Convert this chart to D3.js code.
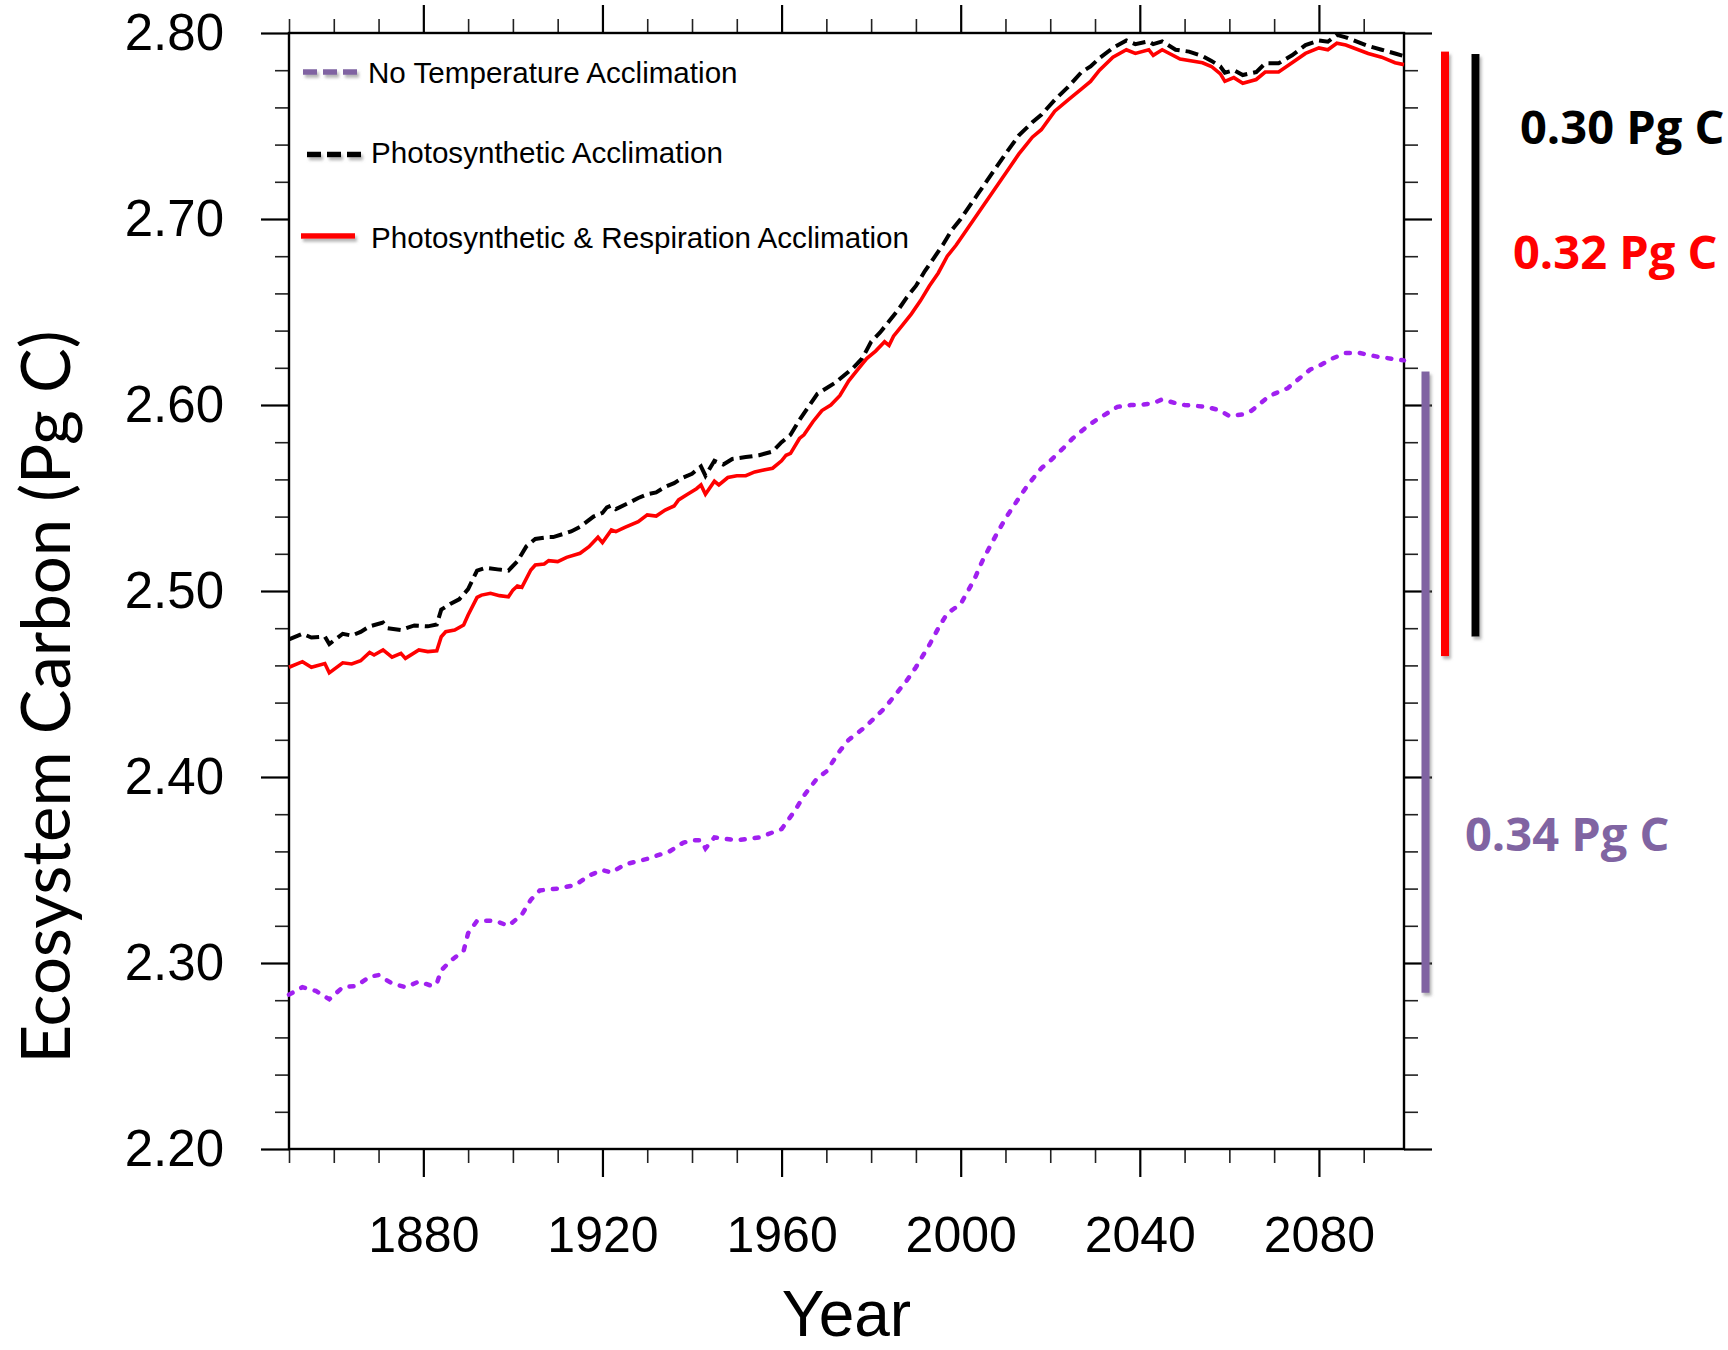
<!DOCTYPE html>
<html>
<head>
<meta charset="utf-8">
<script src="https://cdn.jsdelivr.net/npm/d3@7"></script>
<style>
body { margin: 0; background: #fff; }
.axis text { font-family: "Liberation Sans", Arial, sans-serif; fill: #000; }
.axis .domain { display: none; }
.axis line { stroke: #000; }
</style>
</head>
<body>
<div id="chart"></div>
<script>
// values (Pg C)
var noAcclimYears = [1850, 1853, 1856, 1859, 1862, 1865, 1868, 1870, 1873, 1876, 1879, 1882, 1883, 1884, 1886, 1889, 1890, 1892, 1896, 1899, 1902, 1904,
  1906, 1910, 1914, 1917, 1920, 1922, 1925, 1930, 1935, 1938, 1940, 1942, 1943, 1945, 1950, 1955, 1960, 1963, 1965, 1968, 1970, 1973, 1975, 1978,
  1980, 1983, 1985, 1988, 1990, 1993, 1995, 1997, 2000, 2003, 2005, 2008, 2010, 2013, 2015, 2018, 2020, 2023, 2025, 2028, 2030, 2033, 2035, 2038,
  2040, 2043, 2045, 2048, 2050, 2055, 2058, 2060, 2063, 2065, 2068, 2070, 2073, 2076, 2078, 2080, 2083, 2086, 2089, 2093, 2097, 2099];
var noAcclimValues = [2.283, 2.287, 2.285, 2.2805, 2.287, 2.2876, 2.2926, 2.2935, 2.289, 2.287, 2.290, 2.2876, 2.289, 2.296, 2.301, 2.3066, 2.316, 2.3227, 2.3227, 2.320, 2.326, 2.334,
  2.339, 2.340, 2.342, 2.347, 2.350, 2.3486, 2.353, 2.356, 2.360, 2.3646, 2.366, 2.366, 2.3616, 2.3675, 2.366, 2.3675, 2.372, 2.382, 2.390, 2.3995, 2.403, 2.414, 2.420, 2.4256,
  2.430, 2.437, 2.443, 2.452, 2.459, 2.471, 2.480, 2.488, 2.493, 2.506, 2.517, 2.5305, 2.539, 2.550, 2.557, 2.566, 2.570, 2.577, 2.582, 2.588, 2.5915, 2.596, 2.599, 2.600,
  2.600, 2.601, 2.603, 2.601, 2.600, 2.599, 2.597, 2.594, 2.595, 2.597, 2.603, 2.606, 2.609, 2.615, 2.619, 2.621, 2.625, 2.628, 2.628, 2.626, 2.6246, 2.624];

var photoYears = [1850, 1853, 1855, 1858, 1859, 1862, 1864, 1866, 1868, 1871, 1872, 1875, 1878, 1881, 1883, 1884, 1886, 1888, 1890, 1892, 1894, 1897, 1899,
  1901, 1903, 1905, 1908, 1909, 1913, 1915, 1918, 1920, 1921, 1922, 1923, 1926, 1928, 1930, 1932, 1934, 1936, 1938, 1940, 1942, 1943, 1945, 1947,
  1949, 1952, 1955, 1958, 1960, 1962, 1964, 1966, 1968, 1970, 1972, 1974, 1976, 1978, 1980, 1982, 1984, 1986, 1988, 1990, 1992, 1994, 1996, 1998,
  2000, 2002, 2004, 2006, 2008, 2010, 2013, 2016, 2018, 2021, 2024, 2027, 2029, 2031, 2034, 2037, 2039, 2042, 2043, 2045, 2048, 2051, 2054, 2056,
  2058, 2059, 2061, 2063, 2066, 2068, 2071, 2074, 2077, 2080, 2082, 2084, 2086, 2091, 2094, 2097, 2099];
var photoValues = [2.474, 2.477, 2.475, 2.4755, 2.4715, 2.477, 2.476, 2.478, 2.481, 2.483, 2.480, 2.479, 2.4815, 2.481, 2.482, 2.490, 2.493, 2.4955, 2.501, 2.511, 2.5125, 2.5115, 2.511,
  2.516, 2.524, 2.528, 2.529, 2.529, 2.532, 2.5345, 2.540, 2.542, 2.545, 2.546, 2.544, 2.5475, 2.550, 2.552, 2.553, 2.556, 2.558, 2.561, 2.563, 2.567, 2.562, 2.570, 2.568,
  2.571, 2.572, 2.573, 2.575, 2.580, 2.584, 2.592, 2.599, 2.606, 2.609, 2.612, 2.616, 2.620, 2.625, 2.634, 2.639, 2.645, 2.651, 2.658, 2.664, 2.672, 2.679, 2.686, 2.694,
  2.700, 2.707, 2.714, 2.721, 2.728, 2.735, 2.745, 2.752, 2.756, 2.764, 2.771, 2.779, 2.782, 2.7865, 2.792, 2.796, 2.794, 2.7955, 2.794, 2.7955, 2.791, 2.790, 2.7876, 2.785,
  2.782, 2.7787, 2.780, 2.7774, 2.779, 2.7837, 2.7837, 2.788, 2.7935, 2.796, 2.7953, 2.799, 2.7977, 2.793, 2.791, 2.789, 2.7876];

var photoRespYears = [1850, 1853, 1855, 1858, 1859, 1862, 1864, 1866, 1868, 1869, 1871, 1873, 1875, 1876, 1879, 1881, 1883, 1884, 1885, 1887, 1889, 1890,
  1892, 1893, 1895, 1897, 1899, 1900, 1901, 1902, 1904, 1905, 1907, 1908, 1910, 1912, 1915, 1917, 1919, 1920, 1922, 1923, 1925, 1928, 1930, 1932,
  1934, 1936, 1937, 1939, 1941, 1942, 1943, 1945, 1946, 1948, 1950, 1952, 1954, 1956, 1958, 1960, 1961, 1962, 1964, 1965, 1967, 1969, 1971, 1973,
  1975, 1977, 1979, 1981, 1983, 1984, 1985, 1987, 1989, 1991, 1993, 1995, 1997, 1999, 2001, 2003, 2005, 2007, 2009, 2011, 2013, 2014, 2016, 2018,
  2021, 2024, 2027, 2029, 2031, 2034, 2037, 2039, 2042, 2043, 2045, 2049, 2054, 2056, 2058, 2059, 2061, 2063, 2066, 2068, 2071, 2074, 2077, 2080,
  2082, 2084, 2086, 2091, 2094, 2097, 2099];
var photoRespValues = [2.459, 2.462, 2.459, 2.461, 2.456, 2.4614, 2.4608, 2.4625, 2.467, 2.4656, 2.4683, 2.4644, 2.4665, 2.4638, 2.4683, 2.4674, 2.4679, 2.4754, 2.4781, 2.479, 2.4817, 2.4871,
  2.4966, 2.4978, 2.4988, 2.4975, 2.4969, 2.5005, 2.5027, 2.502, 2.5113, 2.514, 2.5145, 2.5163, 2.5158, 2.5181, 2.5203, 2.5238, 2.5289, 2.526, 2.5328, 2.5319, 2.5342, 2.5373, 2.5409, 2.5403,
  2.5435, 2.5457, 2.549, 2.552, 2.555, 2.557, 2.552, 2.559, 2.557, 2.561, 2.562, 2.562, 2.564, 2.565, 2.566, 2.570, 2.573, 2.574, 2.582, 2.584, 2.591, 2.597, 2.600, 2.605,
  2.613, 2.619, 2.625, 2.629, 2.634, 2.632, 2.637, 2.643, 2.649, 2.656, 2.664, 2.671, 2.680, 2.686, 2.693, 2.700, 2.707, 2.714, 2.721, 2.728, 2.735, 2.738, 2.744, 2.748,
  2.758, 2.764, 2.770, 2.774, 2.780, 2.787, 2.791, 2.789, 2.791, 2.788, 2.791, 2.786, 2.784, 2.782, 2.778, 2.774, 2.776, 2.773, 2.775, 2.779, 2.779, 2.784, 2.789, 2.792,
  2.791, 2.7945, 2.7935, 2.789, 2.787, 2.784, 2.783];

// ranges marked by the bars on the right
var barLabels = ["0.34 Pg C", "0.32 Pg C", "0.30 Pg C"];
var barLow = [2.284, 2.465, 2.4755];
var barHigh = [2.618, 2.790, 2.7887];

var legendLabels = ["No Temperature Acclimation", "Photosynthetic Acclimation", "Photosynthetic & Respiration Acclimation"];

var yMajorTicks = [2.20, 2.30, 2.40, 2.50, 2.60, 2.70, 2.80];
var xMajorTicks = [1880, 1920, 1960, 2000, 2040, 2080];

// set the dimensions and margins of the graph
var margin = {top: 33, left: 289},
width = 1115,
height = 1116;

var svg = d3.select("#chart")
.append("svg")
.attr("width", 1728)
.attr("height", 1350);

// soft shadow used by legend keys and bars
var filter = svg.append("defs").append("filter")
.attr("id", "shadow")
.attr("filterUnits", "userSpaceOnUse")
.attr("x", 0).attr("y", 0)
.attr("width", 1728).attr("height", 1350);
filter.append("feDropShadow")
.attr("dx", 2).attr("dy", 3)
.attr("stdDeviation", 1.5)
.attr("flood-color", "#777")
.attr("flood-opacity", 0.55);

var g = svg.append("g")
.attr("transform", "translate(" + margin.left + "," + margin.top + ")");

var x = d3.scaleLinear().domain([1850, 2099]).range([0, width]);
var y = d3.scaleLinear().domain([2.2, 2.8]).range([height, 0]);

var xMinorTicks = d3.range(1850, 2100, 10).filter(function(d) { return xMajorTicks.indexOf(d) < 0; });
var yMinorTicks = d3.range(110, 141).filter(function(d) { return d % 5 != 0; }).map(function(d) { return d / 50; });

// minor ticks
g.append("g").attr("class", "axis minor")
.call(d3.axisLeft(y).tickValues(yMinorTicks).tickSize(14).tickSizeOuter(0).tickFormat(""));
g.append("g").attr("class", "axis minor")
.attr("transform", "translate(" + width + ",0)")
.call(d3.axisRight(y).tickValues(yMinorTicks).tickSize(14).tickSizeOuter(0).tickFormat(""));
g.append("g").attr("class", "axis minor")
.attr("transform", "translate(0," + height + ")")
.call(d3.axisBottom(x).tickValues(xMinorTicks).tickSize(14).tickSizeOuter(0).tickFormat(""));
g.append("g").attr("class", "axis minor")
.call(d3.axisTop(x).tickValues(xMinorTicks).tickSize(14).tickSizeOuter(0).tickFormat(""));
g.selectAll(".minor line").style("stroke-width", 1.6).style("stroke", "#222");

// major ticks
var yAxis = g.append("g").attr("class", "axis major")
.call(d3.axisLeft(y).tickValues(yMajorTicks).tickSize(28).tickPadding(37).tickSizeOuter(0).tickFormat(d3.format(".2f")));
yAxis.selectAll("text").style("font-size", "51px");

g.append("g").attr("class", "axis major")
.attr("transform", "translate(" + width + ",0)")
.call(d3.axisRight(y).tickValues(yMajorTicks).tickSize(28).tickSizeOuter(0).tickFormat(""));

var xAxis = g.append("g").attr("class", "axis major")
.attr("transform", "translate(0," + height + ")")
.call(d3.axisBottom(x).tickValues(xMajorTicks).tickSize(28).tickPadding(39).tickSizeOuter(0).tickFormat(d3.format("d")));
xAxis.selectAll("text").style("font-size", "50px");

g.append("g").attr("class", "axis major")
.call(d3.axisTop(x).tickValues(xMajorTicks).tickSize(28).tickSizeOuter(0).tickFormat(""));
g.selectAll(".major line").style("stroke-width", 2.2);

// frame
g.append("rect")
.attr("width", width)
.attr("height", height)
.attr("fill", "none")
.attr("stroke", "#000")
.attr("stroke-width", 2.4);

// lines
var line = d3.line()
.x(function(d) { return x(d[0]); })
.y(function(d) { return y(d[1]); });

function pairs(years, values) {
  return years.map(function(yr, i) { return [yr, values[i]]; });
}

g.append("path")
.datum(pairs(noAcclimYears, noAcclimValues))
.attr("d", line)
.attr("fill", "none")
.attr("stroke", "#A020F0")
.attr("stroke-width", 4.5)
.attr("stroke-linecap", "round")
.attr("stroke-dasharray", "4,10");

g.append("path")
.datum(pairs(photoYears, photoValues))
.attr("d", line)
.attr("fill", "none")
.attr("stroke", "#000")
.attr("stroke-width", 4)
.attr("stroke-dasharray", "13,6");

g.append("path")
.datum(pairs(photoRespYears, photoRespValues))
.attr("d", line)
.attr("fill", "none")
.attr("stroke", "#FF0000")
.attr("stroke-width", 3.6);

// legend
var legendColors = ["#8064A2", "#000", "#FF0000"];
var legendDash = ["14,6", "14,6", null];
var legendKeyX = [[303, 357], [307, 361], [301, 355]];
var legendKeyY = [72, 154.5, 236];
var legendTextX = [368, 371, 371];
var legendTextY = [82.7, 163.3, 248.3];

legendLabels.forEach(function(label, i) {
  svg.append("line")
  .attr("x1", legendKeyX[i][0]).attr("x2", legendKeyX[i][1])
  .attr("y1", legendKeyY[i]).attr("y2", legendKeyY[i])
  .attr("stroke", legendColors[i])
  .attr("stroke-width", 5.5)
  .attr("stroke-dasharray", legendDash[i])
  .attr("filter", "url(#shadow)");
  svg.append("text")
  .attr("x", legendTextX[i])
  .attr("y", legendTextY[i])
  .style("font-family", "'Liberation Sans', Arial, sans-serif")
  .style("font-size", "29.6px")
  .text(label);
});

// range bars and their labels
var barColors = ["#8064A2", "#FF0000", "#000"];
var barOffset = [21.5, 41, 71.5];
var barTextX = [1465, 1513, 1520];
var barTextY = [851, 269, 144];

barLabels.forEach(function(label, i) {
  svg.append("rect")
  .attr("x", margin.left + width + barOffset[i] - 4)
  .attr("width", 8)
  .attr("y", margin.top + y(barHigh[i]))
  .attr("height", y(barLow[i]) - y(barHigh[i]))
  .attr("fill", barColors[i])
  .attr("filter", "url(#shadow)");
  svg.append("text")
  .attr("x", barTextX[i])
  .attr("y", barTextY[i])
  .style("font-family", "'Open Sans', sans-serif")
  .style("font-weight", "bold")
  .style("font-size", "47px")
  .attr("fill", barColors[i])
  .text(label);
});

// axis titles
svg.append("text")
.attr("text-anchor", "middle")
.attr("transform", "translate(70,697)rotate(-90)")
.style("font-family", "Lato, sans-serif")
.style("font-size", "67px")
.text("Ecosystem Carbon (Pg C)");

svg.append("text")
.attr("text-anchor", "middle")
.attr("x", margin.left + width / 2)
.attr("y", 1336)
.style("font-family", "'Liberation Sans', Arial, sans-serif")
.style("font-size", "64px")
.text("Year");
</script>
</body>
</html>
